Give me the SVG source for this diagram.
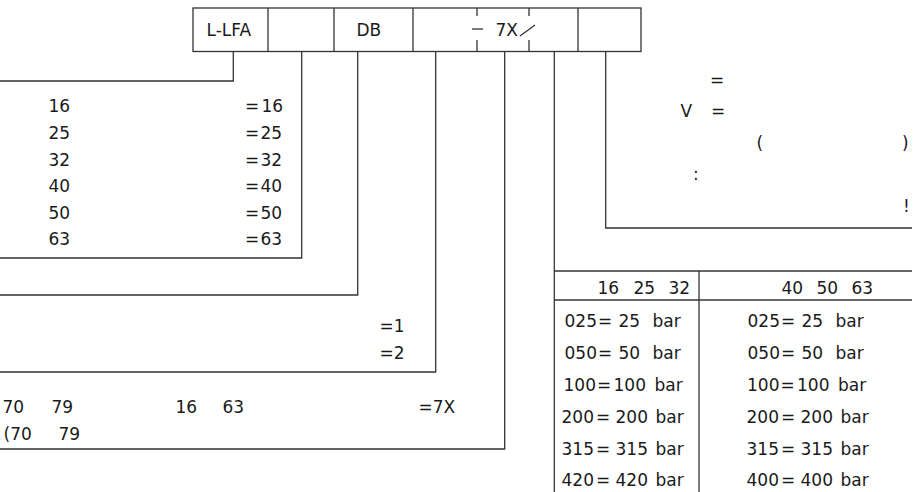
<svg xmlns="http://www.w3.org/2000/svg" width="918" height="492" viewBox="0 0 918 492">
<style>
text{font-family:"DejaVu Sans",sans-serif;font-size:17px;fill:#1a1a1a}
.ln{fill:none;stroke:#333;stroke-width:1.3}
.box{fill:#fff;stroke:#333;stroke-width:1.3}
</style>
<rect width="918" height="492" fill="#fff"/>
<g id="header">
<rect class="box" x="193" y="8" width="448" height="43.5"/>
<line class="ln" x1="268" y1="8" x2="268" y2="51.5"/>
<line class="ln" x1="334" y1="8" x2="334" y2="51.5"/>
<line class="ln" x1="413" y1="8" x2="413" y2="51.5"/>
<line class="ln" x1="578" y1="8" x2="578" y2="51.5"/>
<line class="ln" x1="477" y1="8" x2="477" y2="16"/>
<line class="ln" x1="477" y1="40" x2="477" y2="51.5"/>
<line class="ln" x1="529" y1="8" x2="529" y2="16"/>
<line class="ln" x1="529" y1="40" x2="529" y2="51.5"/>
<line class="ln" x1="472" y1="29" x2="483" y2="29"/>
<line class="ln" x1="520" y1="36" x2="535" y2="25"/>
<text x="206.5" y="36">L-LFA</text>
<text x="356.5" y="36">DB</text>
<text x="495.5" y="36">7X</text>
</g>
<g id="connectors">
<polyline class="ln" points="233.3,51.5 233.3,81 0,81"/>
<polyline class="ln" points="301.7,51.5 301.7,258 0,258"/>
<polyline class="ln" points="357.7,51.5 357.7,295 0,295"/>
<polyline class="ln" points="435.7,51.5 435.7,372 0,372"/>
<polyline class="ln" points="504.7,51.5 504.7,449 0,449"/>
<polyline class="ln" points="554.3,51.5 554.3,492"/>
<polyline class="ln" points="605.7,51.5 605.7,228 912,228"/>
</g>
<g id="size-list">
<text x="48.5" y="112.3">16</text><text x="245" y="112.3">=</text><text x="261.5" y="112.3">16</text>
<text x="48.5" y="139">25</text><text x="245" y="139">=</text><text x="260.5" y="139">25</text>
<text x="48.5" y="165.5">32</text><text x="245" y="165.5">=</text><text x="260.5" y="165.5">32</text>
<text x="48.5" y="192">40</text><text x="245" y="192">=</text><text x="260.5" y="192">40</text>
<text x="48.5" y="218.5">50</text><text x="245" y="218.5">=</text><text x="260.5" y="218.5">50</text>
<text x="48.5" y="245">63</text><text x="245" y="245">=</text><text x="260.5" y="245">63</text>
</g>
<g id="options">
<text x="379.5" y="332">=1</text>
<text x="379.5" y="359">=2</text>
</g>
<g id="series">
<text x="2.5" y="413">70</text>
<text x="51.5" y="413">79</text>
<text x="175.5" y="413">16</text>
<text x="222.5" y="413">63</text>
<text x="418.5" y="413">=7X</text>
<text x="3.5" y="440">(70</text>
<text x="58.5" y="440">79</text>
</g>
<g id="notes">
<text x="710" y="86">=</text>
<text x="680.5" y="117">V</text>
<text x="711" y="117">=</text>
<text x="756.5" y="149">(</text>
<text x="902" y="149">)</text>
<text x="693" y="180">:</text>
<text x="903" y="212">!</text>
</g>
<g id="pressure-table">
<line class="ln" x1="554.3" y1="271" x2="912" y2="271"/>
<line class="ln" x1="554.3" y1="300" x2="912" y2="300"/>
<line class="ln" x1="699" y1="271" x2="699" y2="492"/>
<text x="597.5" y="294">16</text><text x="633.5" y="294">25</text><text x="668.5" y="294">32</text>
<text x="781.5" y="294">40</text><text x="816.5" y="294">50</text><text x="851.5" y="294">63</text>
<g id="col-left">
<text y="327"><tspan x="564.5">025</tspan><tspan x="598">=</tspan><tspan x="618.5">25</tspan><tspan x="652.5">bar</tspan></text>
<text y="358.5"><tspan x="564.5">050</tspan><tspan x="598">=</tspan><tspan x="618.5">50</tspan><tspan x="652.5">bar</tspan></text>
<text y="390.5"><tspan x="563.5">100</tspan><tspan x="597">=</tspan><tspan x="613.5">100</tspan><tspan x="654.5">bar</tspan></text>
<text y="423"><tspan x="561.5">200</tspan><tspan x="596">=</tspan><tspan x="615.5">200</tspan><tspan x="655.5">bar</tspan></text>
<text y="454.5"><tspan x="561.5">315</tspan><tspan x="596">=</tspan><tspan x="615.5">315</tspan><tspan x="655.5">bar</tspan></text>
<text y="486"><tspan x="561.5">420</tspan><tspan x="596">=</tspan><tspan x="615.5">420</tspan><tspan x="655.5">bar</tspan></text>
</g>
<g id="col-right">
<text y="327"><tspan x="747.5">025</tspan><tspan x="781">=</tspan><tspan x="801.5">25</tspan><tspan x="835.5">bar</tspan></text>
<text y="358.5"><tspan x="747.5">050</tspan><tspan x="781">=</tspan><tspan x="801.5">50</tspan><tspan x="835.5">bar</tspan></text>
<text y="390.5"><tspan x="747">100</tspan><tspan x="780.5">=</tspan><tspan x="797">100</tspan><tspan x="838">bar</tspan></text>
<text y="423"><tspan x="746.5">200</tspan><tspan x="781">=</tspan><tspan x="800.5">200</tspan><tspan x="840.5">bar</tspan></text>
<text y="454.5"><tspan x="746.5">315</tspan><tspan x="781">=</tspan><tspan x="800.5">315</tspan><tspan x="840.5">bar</tspan></text>
<text y="486"><tspan x="746.5">400</tspan><tspan x="781">=</tspan><tspan x="800.5">400</tspan><tspan x="840.5">bar</tspan></text>
</g>
</g>
</svg>
